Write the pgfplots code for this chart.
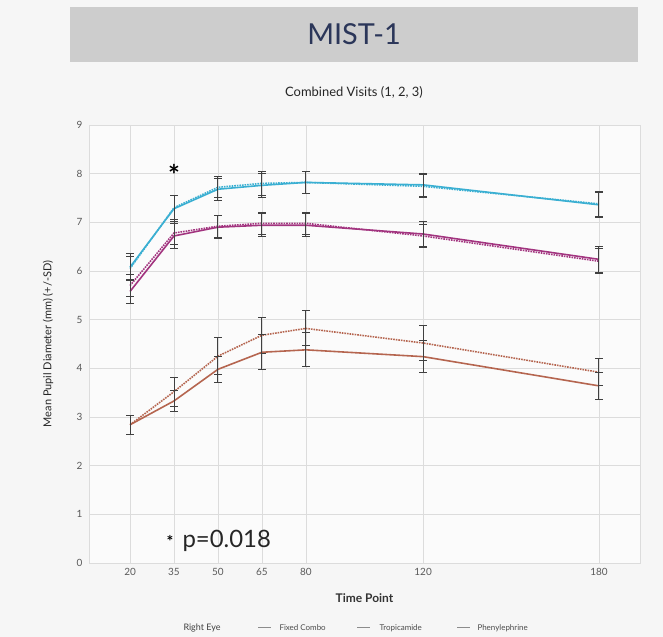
\documentclass[border=0pt]{standalone}
\usepackage{fontspec}
\setmainfont{Lato}
\usepackage{pgfplots}
\pgfplotsset{compat=1.18}

\definecolor{combo}{HTML}{3AAFD2}
\definecolor{tropi}{HTML}{A2347F}
\definecolor{pheny}{HTML}{B5654F}
\definecolor{bg}{HTML}{F6F6F6}
\definecolor{banner}{HTML}{CDCDCD}
\definecolor{navy}{HTML}{2B3659}
\definecolor{gridc}{HTML}{DCDCDC}

% columns: time, mean, sd
\pgfplotstableread{
t   m     e
20  6.08  0.27
35  7.28  0.27
50  7.68  0.23
65  7.76  0.25
80  7.82  0.22
120 7.77  0.24
180 7.36  0.26
}\combo
\pgfplotstableread{
t   m     e
20  6.05  0.25
35  7.30  0.25
50  7.72  0.22
65  7.80  0.24
80  7.82  0.22
120 7.74  0.24
180 7.38  0.25
}\combodot
\pgfplotstableread{
t   m     e
20  5.58  0.25
35  6.72  0.26
50  6.90  0.24
65  6.94  0.24
80  6.94  0.24
120 6.76  0.25
180 6.24  0.27
}\tropi
\pgfplotstableread{
t   m     e
20  5.70  0.22
35  6.78  0.24
50  6.92  0.23
65  6.98  0.22
80  6.98  0.22
120 6.72  0.24
180 6.20  0.26
}\tropidot
\pgfplotstableread{
t   m     e
20  2.84  0.20
35  3.33  0.22
50  3.98  0.27
65  4.33  0.36
80  4.38  0.35
120 4.24  0.33
180 3.64  0.28
}\pheny
\pgfplotstableread{
t   m     e
20  2.84  0.20
35  3.52  0.30
50  4.25  0.38
65  4.68  0.37
80  4.82  0.36
120 4.52  0.35
180 3.92  0.28
}\phenydot

\begin{document}
\begin{tikzpicture}[x=1bp, y=1bp]
% canvas and banner
\fill[bg] (0,0) rectangle (663,637);
\fill[banner] (70,575) rectangle (638,630);
\node[text=navy, font=\fontsize{29}{32}\selectfont] at (354,602.5) {MIST-1};
\node[text=black!85, font=\fontsize{13}{15}\selectfont] at (354,545) {Combined Visits (1, 2, 3)};
\coordinate (orig) at (89,74);

\begin{axis}[
    at={(orig)}, anchor=south west,
    scale only axis, width=551bp, height=438bp,
    xmin=6, xmax=194, ymin=0, ymax=9,
    xtick={20,35,50,65,80,120,180},
    ytick={0,1,...,9},
    grid=major,
    grid style={gridc, line width=0.7pt},
    axis line style={gridc, line width=0.7pt},
    axis background/.style={fill=white!60!bg},
    major tick length=0pt,
    tick label style={font=\fontsize{10}{12}\selectfont, text=black!65},
    xticklabel style={yshift=-2bp},
    yticklabel style={xshift=-3bp},
    /pgf/number format/assume math mode=true,
    every axis plot/.append style={line width=1.6pt, mark=none},
    error bars/error bar style={black!75, line width=1pt, solid},
    error bars/error mark options={rotate=90, mark size=3.8bp, black!75, line width=1pt},
]
% dotted companions
\addplot[combo, densely dotted, error bars/.cd, y dir=both, y explicit]
    table[x=t, y=m, y error=e] {\combodot};
\addplot[tropi, densely dotted, error bars/.cd, y dir=both, y explicit]
    table[x=t, y=m, y error=e] {\tropidot};
\addplot[pheny, densely dotted, error bars/.cd, y dir=both, y explicit]
    table[x=t, y=m, y error=e] {\phenydot};
% solid series
\addplot[combo, error bars/.cd, y dir=both, y explicit]
    table[x=t, y=m, y error=e] {\combo};
\addplot[tropi, error bars/.cd, y dir=both, y explicit]
    table[x=t, y=m, y error=e] {\tropi};
\addplot[pheny, error bars/.cd, y dir=both, y explicit]
    table[x=t, y=m, y error=e] {\pheny};

\node[anchor=base, font=\fontsize{28}{28}\selectfont\bfseries] at (axis cs:35,7.76) {*};
\end{axis}

% axis titles
\node[font=\fontsize{12}{14}\selectfont\bfseries, text=black!80] at (364.5,39) {Time Point};
\node[rotate=90, font=\fontsize{11}{13}\selectfont, text=black!85] at (48,293) {Mean Pupil Diameter (mm) (+/-SD)};

% significance note
\node[anchor=base west, font=\fontsize{16}{16}\selectfont\bfseries] at (163,89) {*};
\node[anchor=base west, font=\fontsize{24}{26}\selectfont, text=black!85] at (179,89) {p=0.018};

% legend
\node[anchor=base west, font=\fontsize{9}{11}\selectfont, text=black!75] at (180,6) {Right Eye};
\draw[black!45, line width=0.8pt] (258,9.5) -- (271,9.5);
\node[anchor=base west, font=\fontsize{8}{10}\selectfont, text=black!70] at (276,6) {Fixed Combo};
\draw[black!45, line width=0.8pt] (357,9.5) -- (370,9.5);
\node[anchor=base west, font=\fontsize{8}{10}\selectfont, text=black!70] at (376,6) {Tropicamide};
\draw[black!45, line width=0.8pt] (457,9.5) -- (470,9.5);
\node[anchor=base west, font=\fontsize{8}{10}\selectfont, text=black!70] at (474,6) {Phenylephrine};
\end{tikzpicture}
\end{document}
